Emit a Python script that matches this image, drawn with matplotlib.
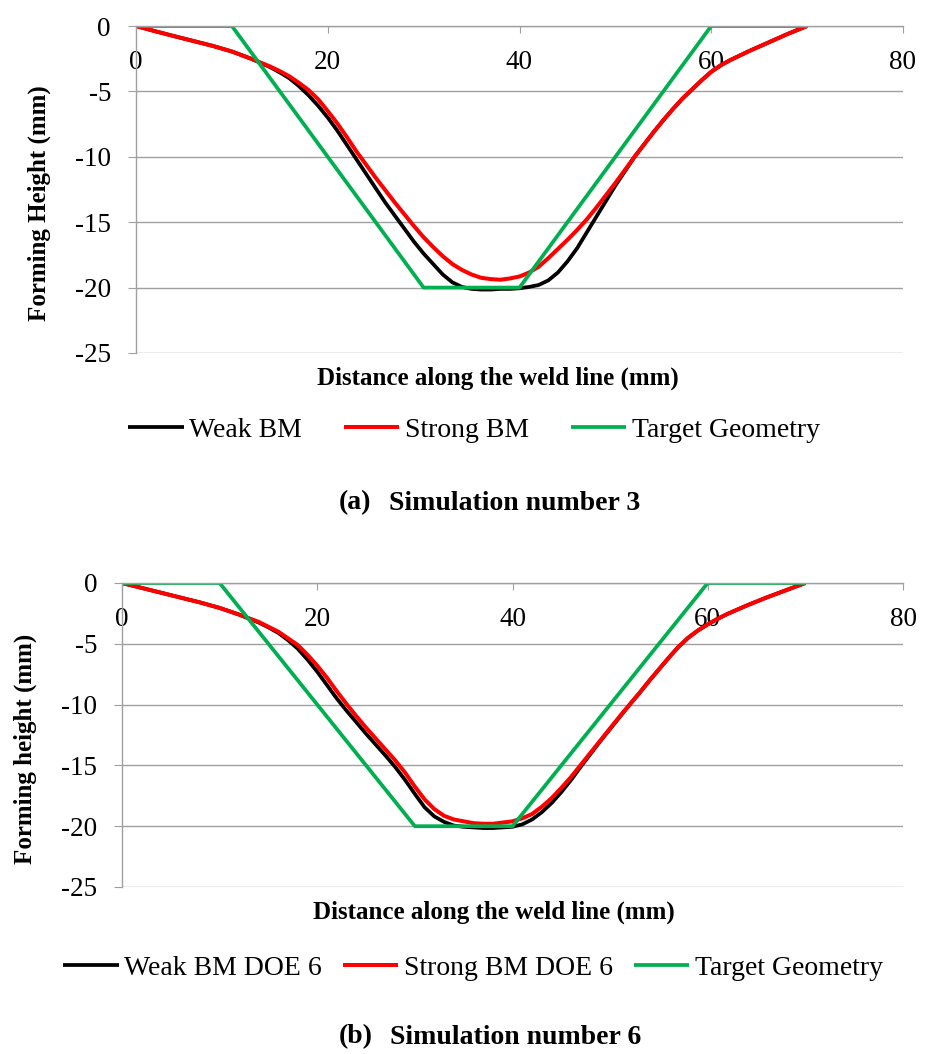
import numpy as np
import matplotlib.pyplot as plt

plt.rcParams['font.family'] = ['Liberation Serif', 'DejaVu Serif']

# distance along weld line (mm), shared by the simulated curves
DIST = [0, 2, 4, 6, 8, 10, 12] + list(range(14, 63)) + [64, 66, 68, 70]

# (a) simulation number 3
WEAK_3 = [0, -0.4, -0.78, -1.15, -1.52, -1.95, -2.5,
          -3.15, -3.55, -4.0, -4.6, -5.3, -6.1, -7.0, -8.0, -9.1, -10.2,
          -11.3, -12.4, -13.5, -14.5, -15.5, -16.5, -17.4, -18.2, -19.0, -19.6,
          -19.95, -20.1, -20.15, -20.15, -20.1, -20.1, -20.05, -19.95, -19.8, -19.45,
          -18.85, -18.0, -17.0, -15.8, -14.6, -13.4, -12.2, -11.1, -10.0, -9.05,
          -8.1, -7.2, -6.35, -5.55, -4.85, -4.15, -3.5, -3.0, -2.6,
          -1.9, -1.25, -0.6, 0]
STRONG_3 = [0, -0.4, -0.78, -1.15, -1.52, -1.95, -2.5,
            -3.1, -3.45, -3.85, -4.35, -4.9, -5.6, -6.5, -7.45, -8.5, -9.6,
            -10.6, -11.6, -12.55, -13.5, -14.4, -15.3, -16.15, -16.9, -17.6, -18.2,
            -18.65, -19.0, -19.25, -19.35, -19.4, -19.3, -19.15, -18.85, -18.4, -17.75,
            -17.05, -16.35, -15.6, -14.8, -13.9, -12.95, -12.0, -11.0, -10.0, -9.05,
            -8.1, -7.2, -6.35, -5.55, -4.85, -4.15, -3.5, -3.0, -2.6,
            -1.9, -1.25, -0.6, 0]

# (b) simulation number 6
WEAK_6 = [0, -0.4, -0.8, -1.2, -1.6, -2.05, -2.6,
          -3.25, -3.65, -4.1, -4.7, -5.4, -6.3, -7.3, -8.4, -9.5, -10.5,
          -11.45, -12.4, -13.3, -14.2, -15.15, -16.2, -17.35, -18.45, -19.2, -19.65,
          -19.95, -20.05, -20.1, -20.15, -20.15, -20.1, -20.05, -19.85, -19.45, -18.85,
          -18.1, -17.2, -16.2, -15.1, -14.05, -13.0, -12.0, -11.0, -10.0, -9.05,
          -8.05, -7.1, -6.15, -5.25, -4.5, -3.9, -3.4, -2.95, -2.55,
          -1.85, -1.2, -0.6, 0]
STRONG_6 = [0, -0.4, -0.8, -1.2, -1.6, -2.05, -2.6,
            -3.2, -3.6, -4.0, -4.55, -5.1, -5.9, -6.8, -7.8, -8.9, -9.95,
            -10.95, -11.9, -12.8, -13.7, -14.6, -15.6, -16.75, -17.8, -18.6, -19.15,
            -19.45, -19.6, -19.75, -19.8, -19.8, -19.7, -19.6, -19.35, -19.0, -18.4,
            -17.7, -16.85, -15.95, -14.95, -13.95, -12.95, -11.95, -10.95, -10.0, -9.05,
            -8.05, -7.1, -6.15, -5.25, -4.5, -3.9, -3.4, -2.95, -2.55,
            -1.85, -1.2, -0.6, 0]

TARGET_X = [0, 10, 30, 40, 60, 70]
TARGET_Y = [0, 0, -20, -20, 0, 0]

X_TICKS = [0, 20, 40, 60, 80]
Y_TICKS = [0, -5, -10, -15, -20, -25]

GRID = '#A0A0A0'
W, H = 932, 1054


def frac(x, y):
    # pixel position -> figure fraction
    return x / W, 1 - y / H


def draw_panel(ax, weak, strong, labels, ylabel, ylab_pos, xlab_pos):
    ax.plot(DIST, weak, color='black', lw=2.7, label=labels[0], solid_capstyle='butt')
    ax.plot(DIST, strong, color='#FF0000', lw=2.9, label=labels[1], solid_capstyle='butt')
    ax.plot(TARGET_X, TARGET_Y, color='#00B050', lw=2.7, label=labels[2], solid_capstyle='butt')

    ax.set_xlim(0, 80)
    ax.set_ylim(-25, 0)
    ax.set_xticks(X_TICKS)
    ax.set_yticks(Y_TICKS)
    ax.set_yticklabels([str(v) for v in Y_TICKS])

    ax.grid(axis='y', color=GRID, lw=1.0)
    ax.set_axisbelow(True)
    for s in ['right', 'bottom']:
        ax.spines[s].set_visible(False)
    for s in ['top', 'left']:
        ax.spines[s].set_color(GRID)
        ax.spines[s].set_linewidth(1.0)

    ax.xaxis.set_ticks_position('top')
    ax.tick_params(axis='x', direction='in', length=5, color=GRID, labelsize=19.5,
                   pad=-35, labeltop=True, labelbottom=False)
    ax.tick_params(axis='y', direction='out', length=5.5, color=GRID, labelsize=19.5, pad=12.5)

    ax.set_ylabel(ylabel, fontsize=18, fontweight='bold')
    ax.yaxis.set_label_coords(*ylab_pos)
    ax.set_xlabel('Distance along the weld line (mm)', fontsize=18, fontweight='bold')
    ax.xaxis.set_label_position('bottom')
    ax.xaxis.set_label_coords(*xlab_pos)
    ax.xaxis.label.set_va('center')
    ax.yaxis.label.set_va('center')


fig = plt.figure(figsize=(W / 100, H / 100), dpi=100)

ax1 = fig.add_axes([136 / W, 1 - 353 / H, 767 / W, 327 / H])
draw_panel(ax1, WEAK_3, STRONG_3, ['Weak BM', 'Strong BM', 'Target Geometry'],
           'Forming Height (mm)', (-0.1265, 0.459), (0.472, -0.076))

ax2 = fig.add_axes([122 / W, 1 - 887 / H, 781 / W, 304 / H])
draw_panel(ax2, WEAK_6, STRONG_6, ['Weak BM DOE 6', 'Strong BM DOE 6', 'Target Geometry'],
           'Forming height (mm)', (-0.124, 0.454), (0.476, -0.082))

leg_kw = dict(loc='center', ncol=3, frameon=False, fontsize=20, handlelength=2.0,
              handletextpad=0.2, borderpad=0)
h1, l1 = ax1.get_legend_handles_labels()
fig.legend(h1, l1, bbox_to_anchor=frac(474, 430), columnspacing=1.5, **leg_kw)
h2, l2 = ax2.get_legend_handles_labels()
fig.legend(h2, l2, bbox_to_anchor=frac(473, 968), columnspacing=0.75, **leg_kw)

# sub-figure captions
fig.text(*frac(339, 503), '(a)', fontsize=20, fontweight='bold', ha='left', va='center')
fig.text(*frac(389, 503), 'Simulation number 3', fontsize=20, fontweight='bold', ha='left', va='center')
fig.text(*frac(339, 1037), '(b)', fontsize=20, fontweight='bold', ha='left', va='center')
fig.text(*frac(390, 1037), 'Simulation number 6', fontsize=20, fontweight='bold', ha='left', va='center')

fig.savefig('out.png', dpi=100)
